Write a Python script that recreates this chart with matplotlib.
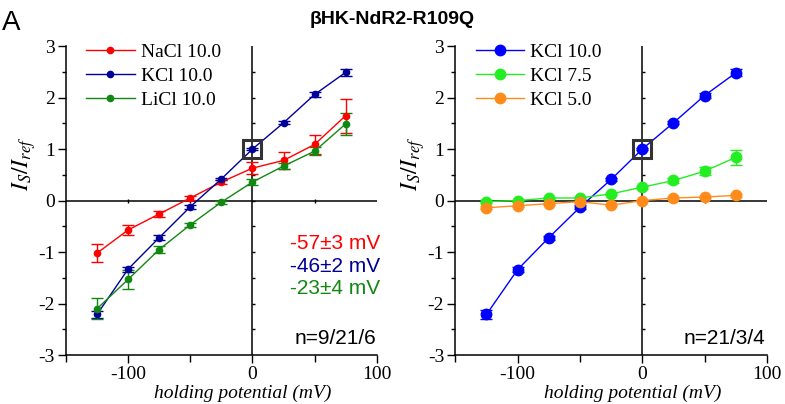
import matplotlib
matplotlib.use("Agg")
import matplotlib.pyplot as plt
import numpy as np

plt.rcParams['font.family'] = ['Liberation Serif', 'DejaVu Serif']
plt.rcParams['mathtext.fontset'] = 'stix'
plt.rcParams['axes.unicode_minus'] = False

voltage = [-125, -100, -75, -50, -25, 0, 25, 50, 75]

# Left panel
nacl = [-1.02, -0.57, -0.26, 0.05, 0.36, 0.63, 0.78, 1.09, 1.65]
nacl_err = [0.18, 0.10, 0.05, 0.03, 0.03, 0.12, 0.16, 0.18, 0.33]
kcl = [-2.21, -1.33, -0.72, -0.12, 0.42, 1.00, 1.51, 2.06, 2.49]
kcl_err = [0.07, 0.05, 0.05, 0.04, 0.02, 0.02, 0.03, 0.04, 0.07]
licl = [-2.10, -1.53, -0.95, -0.47, -0.03, 0.36, 0.67, 0.96, 1.49]
licl_err = [0.20, 0.18, 0.07, 0.04, 0.03, 0.06, 0.06, 0.08, 0.21]

# Right panel
k10 = [-2.21, -1.34, -0.72, -0.13, 0.41, 1.00, 1.51, 2.04, 2.48]
k10_err = [0.08, 0.05, 0.04, 0.04, 0.03, 0.02, 0.03, 0.04, 0.07]
k75 = [-0.02, 0.00, 0.05, 0.05, 0.13, 0.26, 0.39, 0.57, 0.84]
k75_err = [0.03, 0.02, 0.02, 0.02, 0.02, 0.03, 0.04, 0.08, 0.15]
k50 = [-0.14, -0.10, -0.06, -0.02, -0.09, 0.00, 0.05, 0.07, 0.10]
k50_err = [0.03, 0.02, 0.02, 0.02, 0.02, 0.01, 0.02, 0.02, 0.03]

left_labels = ['NaCl 10.0', 'KCl 10.0', 'LiCl 10.0']
right_labels = ['KCl 10.0', 'KCl 7.5', 'KCl 5.0']
left_colors = ['#ff0000', '#000099', '#118811']
right_colors = ['#0000ff', '#22ee22', '#ff8c1a']
erev_texts = ['-57\u00b13 mV', '-46\u00b12 mV', '-23\u00b14 mV']
n_texts = ['n=9/21/6', 'n=21/3/4']
ref_point = (0, 1.0)

xlim = (-150, 100)
ylim = (-3, 3)

fig = plt.figure(figsize=(7.85, 4.04), dpi=100)
axL = fig.add_axes([0.084, 0.121, 0.396, 0.765])
axR = fig.add_axes([0.580, 0.121, 0.397, 0.765])


def style_axis(ax):
    ax.set_xlim(*xlim)
    ax.set_ylim(*ylim)
    for s in ['top', 'right']:
        ax.spines[s].set_visible(False)
    for s in ['left', 'bottom']:
        ax.spines[s].set_linewidth(1.1)
    ax.set_xticks([-100, 0, 100])
    ax.set_xticks([-150, -50, 50], minor=True)
    ax.set_yticks([-3, -2, -1, 0, 1, 2, 3])
    ax.set_yticks(np.arange(-2.5, 3, 1.0), minor=True)
    ax.tick_params(which='major', direction='out', length=6, width=1.0,
                   labelsize=14, pad=2)
    ax.tick_params(which='minor', direction='out', length=3, width=1.0)
    ax.tick_params(axis='x', which='major', length=6)
    ax.tick_params(axis='x', which='minor', length=5)
    for lbl in ax.get_xticklabels() + ax.get_yticklabels():
        lbl.set_fontfamily('Liberation Serif')
    # center lines
    ax.axvline(0, color='black', lw=1.1, zorder=1)
    ax.axhline(0, color='black', lw=1.1, zorder=1)
    fx = (0 - xlim[0]) / (xlim[1] - xlim[0])
    fy = (0 - ylim[0]) / (ylim[1] - ylim[0])
    sy = ax.secondary_yaxis(fx)
    for sp in sy.spines.values():
        sp.set_visible(False)
    sy.set_yticks(np.arange(-2.5, 3, 0.5))
    sy.tick_params(direction='out', length=2.5, width=1.0, labelleft=False,
                   labelright=False)
    sx = ax.secondary_xaxis(fy)
    for sp in sx.spines.values():
        sp.set_visible(False)
    sx.set_xticks([-100, -50, 50])
    sx.tick_params(direction='inout', length=3, width=1.0, labelbottom=False,
                   labeltop=False)
    ax.set_xlabel('holding potential (mV)', style='italic', fontsize=14,
                  labelpad=0)
    ax.xaxis.set_label_coords(0.57, -0.097)
    ax.set_ylabel(r'$I_S/I_{ref}$', fontsize=17, labelpad=0)
    ax.yaxis.set_label_coords(-0.09, 0.62)


for ax in (axL, axR):
    style_axis(ax)

left_series = [(nacl, nacl_err), (kcl, kcl_err), (licl, licl_err)]
for (y, e), c, lab in zip(left_series, left_colors, left_labels):
    axL.errorbar(voltage, y, yerr=e, color=c, lw=1.0, marker='o', ms=4.5,
                 capsize=4, capthick=1.0, elinewidth=1.0, label=lab, zorder=3)

right_series = [(k10, k10_err), (k75, k75_err), (k50, k50_err)]
for (y, e), c, lab in zip(right_series, right_colors, right_labels):
    axR.errorbar(voltage, y, yerr=e, color=c, lw=1.0, marker='o', ms=7.5,
                 capsize=4, capthick=1.0, elinewidth=1.0, label=lab, zorder=3)

for ax in (axL, axR):
    ax.plot([ref_point[0]], [ref_point[1]], marker='s', ms=12.5, mfc='none',
            mec='#333333', mew=2.2, ls='none', zorder=5)
    handles, labels = ax.get_legend_handles_labels()
    handles = [h[0] for h in handles]
    ax.legend(handles, labels, loc='upper left', bbox_to_anchor=(0.065, 1.01),
              frameon=False, fontsize=14, handlelength=2.5, handletextpad=0.3,
              labelspacing=0.33, borderaxespad=0, borderpad=0, numpoints=1)

ys = [0.361, 0.286, 0.216]
for t, c, yy in zip(erev_texts, left_colors, ys):
    axL.text(1.01, yy, t, transform=axL.transAxes, ha='right', va='center',
             color=c, fontsize=15, family='Liberation Sans')

axL.text(0.999, 0.054, n_texts[0], transform=axL.transAxes, ha='right',
         va='center', fontsize=15, family='Liberation Sans')
axR.text(0.994, 0.055, n_texts[1], transform=axR.transAxes, ha='right',
         va='center', fontsize=15, family='Liberation Sans')

fig.text(0.5, 0.952, '\u03b2HK-NdR2-R109Q', ha='center', va='center',
         fontsize=14, fontweight='bold', family='Liberation Sans')
fig.text(0.003, 0.975, 'A', ha='left', va='top', fontsize=20,
         family='Liberation Sans')

fig.savefig('out.png', dpi=100)
